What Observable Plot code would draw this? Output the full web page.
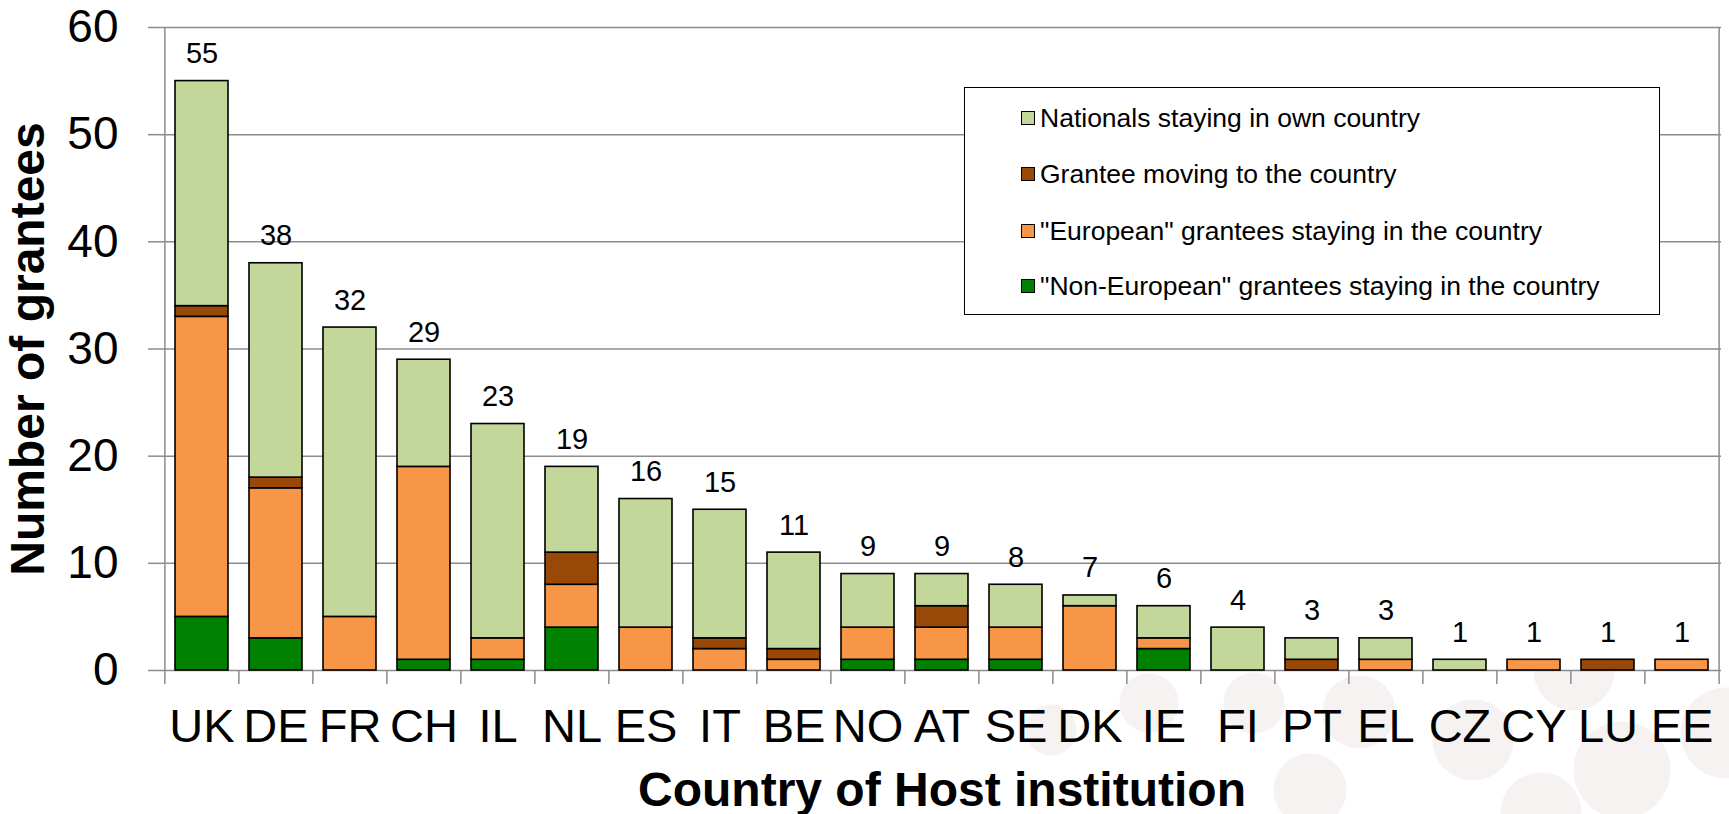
<!DOCTYPE html>
<html>
<head>
<meta charset="utf-8">
<script src="https://cdn.jsdelivr.net/npm/d3@7"></script>
<script src="https://cdn.jsdelivr.net/npm/@observablehq/plot@0.6"></script>
<style>
  html, body { margin: 0; padding: 0; background: #fff; }
  #wrap {
    position: relative; width: 1729px; height: 814px; overflow: hidden;
    font-family: "Liberation Sans", Arial, sans-serif;
    background:
      radial-gradient(circle at 1051px 730px, #f6f2f1 25px, transparent 26px),
      radial-gradient(circle at 1149px 703px, #f6f2f1 29px, transparent 30px),
      radial-gradient(circle at 1254px 703px, #f6f2f1 30px, transparent 31px),
      radial-gradient(circle at 1310px 790px, #f6f2f1 36px, transparent 37px),
      radial-gradient(circle at 1359px 712px, #f6f2f1 36px, transparent 37px),
      radial-gradient(circle at 1473px 740px, #f6f2f1 40px, transparent 41px),
      radial-gradient(circle at 1541px 813px, #f6f2f1 40px, transparent 41px),
      radial-gradient(circle at 1574px 670px, #f6f2f1 40px, transparent 41px),
      radial-gradient(circle at 1622px 770px, #f6f2f1 48px, transparent 49px),
      radial-gradient(circle at 1726px 733px, #f6f2f1 45px, transparent 46px),
      #fff;
  }
  #legend {
    position: absolute; left: 964px; top: 87px; width: 696px; height: 228px;
    box-sizing: border-box; border: 1.5px solid #000; background: #fff;
  }
  .item {
    position: absolute; left: 56px; height: 30px; display: flex; align-items: center;
    font-size: 26.5px; color: #000; white-space: nowrap;
  }
  .sw { width: 12px; height: 12px; border: 1.5px solid #000; margin-right: 5px; }
</style>
</head>
<body>
<div id="wrap"></div>
<script>
const countries = ["UK","DE","FR","CH","IL","NL","ES","IT","BE","NO","AT","SE","DK","IE","FI","PT","EL","CZ","CY","LU","EE"];
const nonEuropean = [5,3,0,1,1,4,0,0,0,1,1,1,0,2,0,0,0,0,0,0,0];
const european    = [28,14,5,18,2,4,4,2,1,3,3,3,6,1,0,0,1,0,1,0,1];
const moving      = [1,1,0,0,0,3,0,1,1,0,2,0,0,0,0,1,0,0,0,1,0];
const nationals   = [21,20,27,10,20,8,12,12,9,5,3,4,1,3,4,2,2,1,0,0,0];
const seriesNames = ['"Non-European" grantees staying in the country', '"European" grantees staying in the country', 'Grantee moving to the country', 'Nationals staying in own country'];
const seriesColors = ["#008000", "#F79646", "#984807", "#C4D79B"];
const legendOrder = [3, 2, 1, 0];
const yTicks = [0, 10, 20, 30, 40, 50, 60];
const xTitle = "Country of Host institution";
const yTitle = "Number of grantees";

const seriesValues = [nonEuropean, european, moving, nationals];
const rows = [];
seriesValues.forEach((arr, s) => arr.forEach((v, i) => {
  if (v > 0) rows.push({country: countries[i], series: seriesNames[s], value: v});
}));
const totals = countries.map((c, i) => ({country: c, total: seriesValues.reduce((a, arr) => a + arr[i], 0)}));

const W = 1729, H = 814, ML = 162, MR = 8, MT = 27, MB = 144;
const step = (W - ML - MR) / countries.length;
const grey = "#8c8c8c";
const first = countries[0], last = countries[countries.length - 1];

const chart = Plot.plot({
  width: W, height: H,
  marginLeft: ML, marginRight: MR, marginTop: MT, marginBottom: MB,
  style: {fontFamily: '"Liberation Sans", Arial, sans-serif', background: "transparent", overflow: "visible", color: "#000"},
  x: {domain: countries, paddingInner: 0.29, paddingOuter: 0.145, label: null},
  y: {domain: [0, 60], label: null},
  color: {domain: seriesNames, range: seriesColors},
  marks: [
    Plot.frame({fill: "#fff", stroke: null}),
    Plot.gridY(yTicks, {stroke: grey, strokeOpacity: 1, strokeWidth: 1.5}),
    Plot.ruleX([first], {x: d => d, dx: -step / 2, stroke: grey, strokeWidth: 1.5}),
    Plot.ruleX([last], {x: d => d, dx: step / 2, stroke: grey, strokeWidth: 1.5}),
    Plot.ruleX(countries, {x: d => d, dx: -step / 2, y1: 0, y2: 0, insetBottom: -14, stroke: grey, strokeWidth: 1.5}),
    Plot.ruleX([last], {x: d => d, dx: step / 2, y1: 0, y2: 0, insetBottom: -14, stroke: grey, strokeWidth: 1.5}),
    Plot.barY(rows, Plot.stackY({x: "country", y: "value", fill: "series", order: seriesNames, stroke: "#000", strokeWidth: 1.6})),
    Plot.text(totals, {x: "country", y: "total", text: d => String(d.total), lineAnchor: "bottom", dy: -18, fontSize: 29, fill: "#000"}),
    Plot.axisY(yTicks, {tickSize: 14, tickPadding: 30, fontSize: 46, stroke: grey, strokeWidth: 1.5, fill: "#000", label: null}),
    Plot.axisX({tickSize: 0, tickPadding: 38, fontSize: 47, fill: "#000", label: null}),
    Plot.text([xTitle], {text: d => d, frameAnchor: "bottom", dy: 135, fontSize: 48, fontWeight: "bold", fill: "#000"}),
    Plot.text([yTitle], {text: d => d, frameAnchor: "left", textAnchor: "middle", dx: -134, rotate: -90, fontSize: 48, fontWeight: "bold", fill: "#000"})
  ]
});

const wrap = document.getElementById("wrap");
wrap.appendChild(chart);

const legend = document.createElement("div");
legend.id = "legend";
const rowCenters = [30, 86, 143, 198];
legendOrder.forEach((s, k) => {
  const item = document.createElement("div");
  item.className = "item";
  item.style.top = (rowCenters[k] - 15) + "px";
  const sw = document.createElement("div");
  sw.className = "sw";
  sw.style.background = seriesColors[s];
  const label = document.createElement("span");
  label.textContent = seriesNames[s];
  item.appendChild(sw);
  item.appendChild(label);
  legend.appendChild(item);
});
wrap.appendChild(legend);
</script>
</body>
</html>
